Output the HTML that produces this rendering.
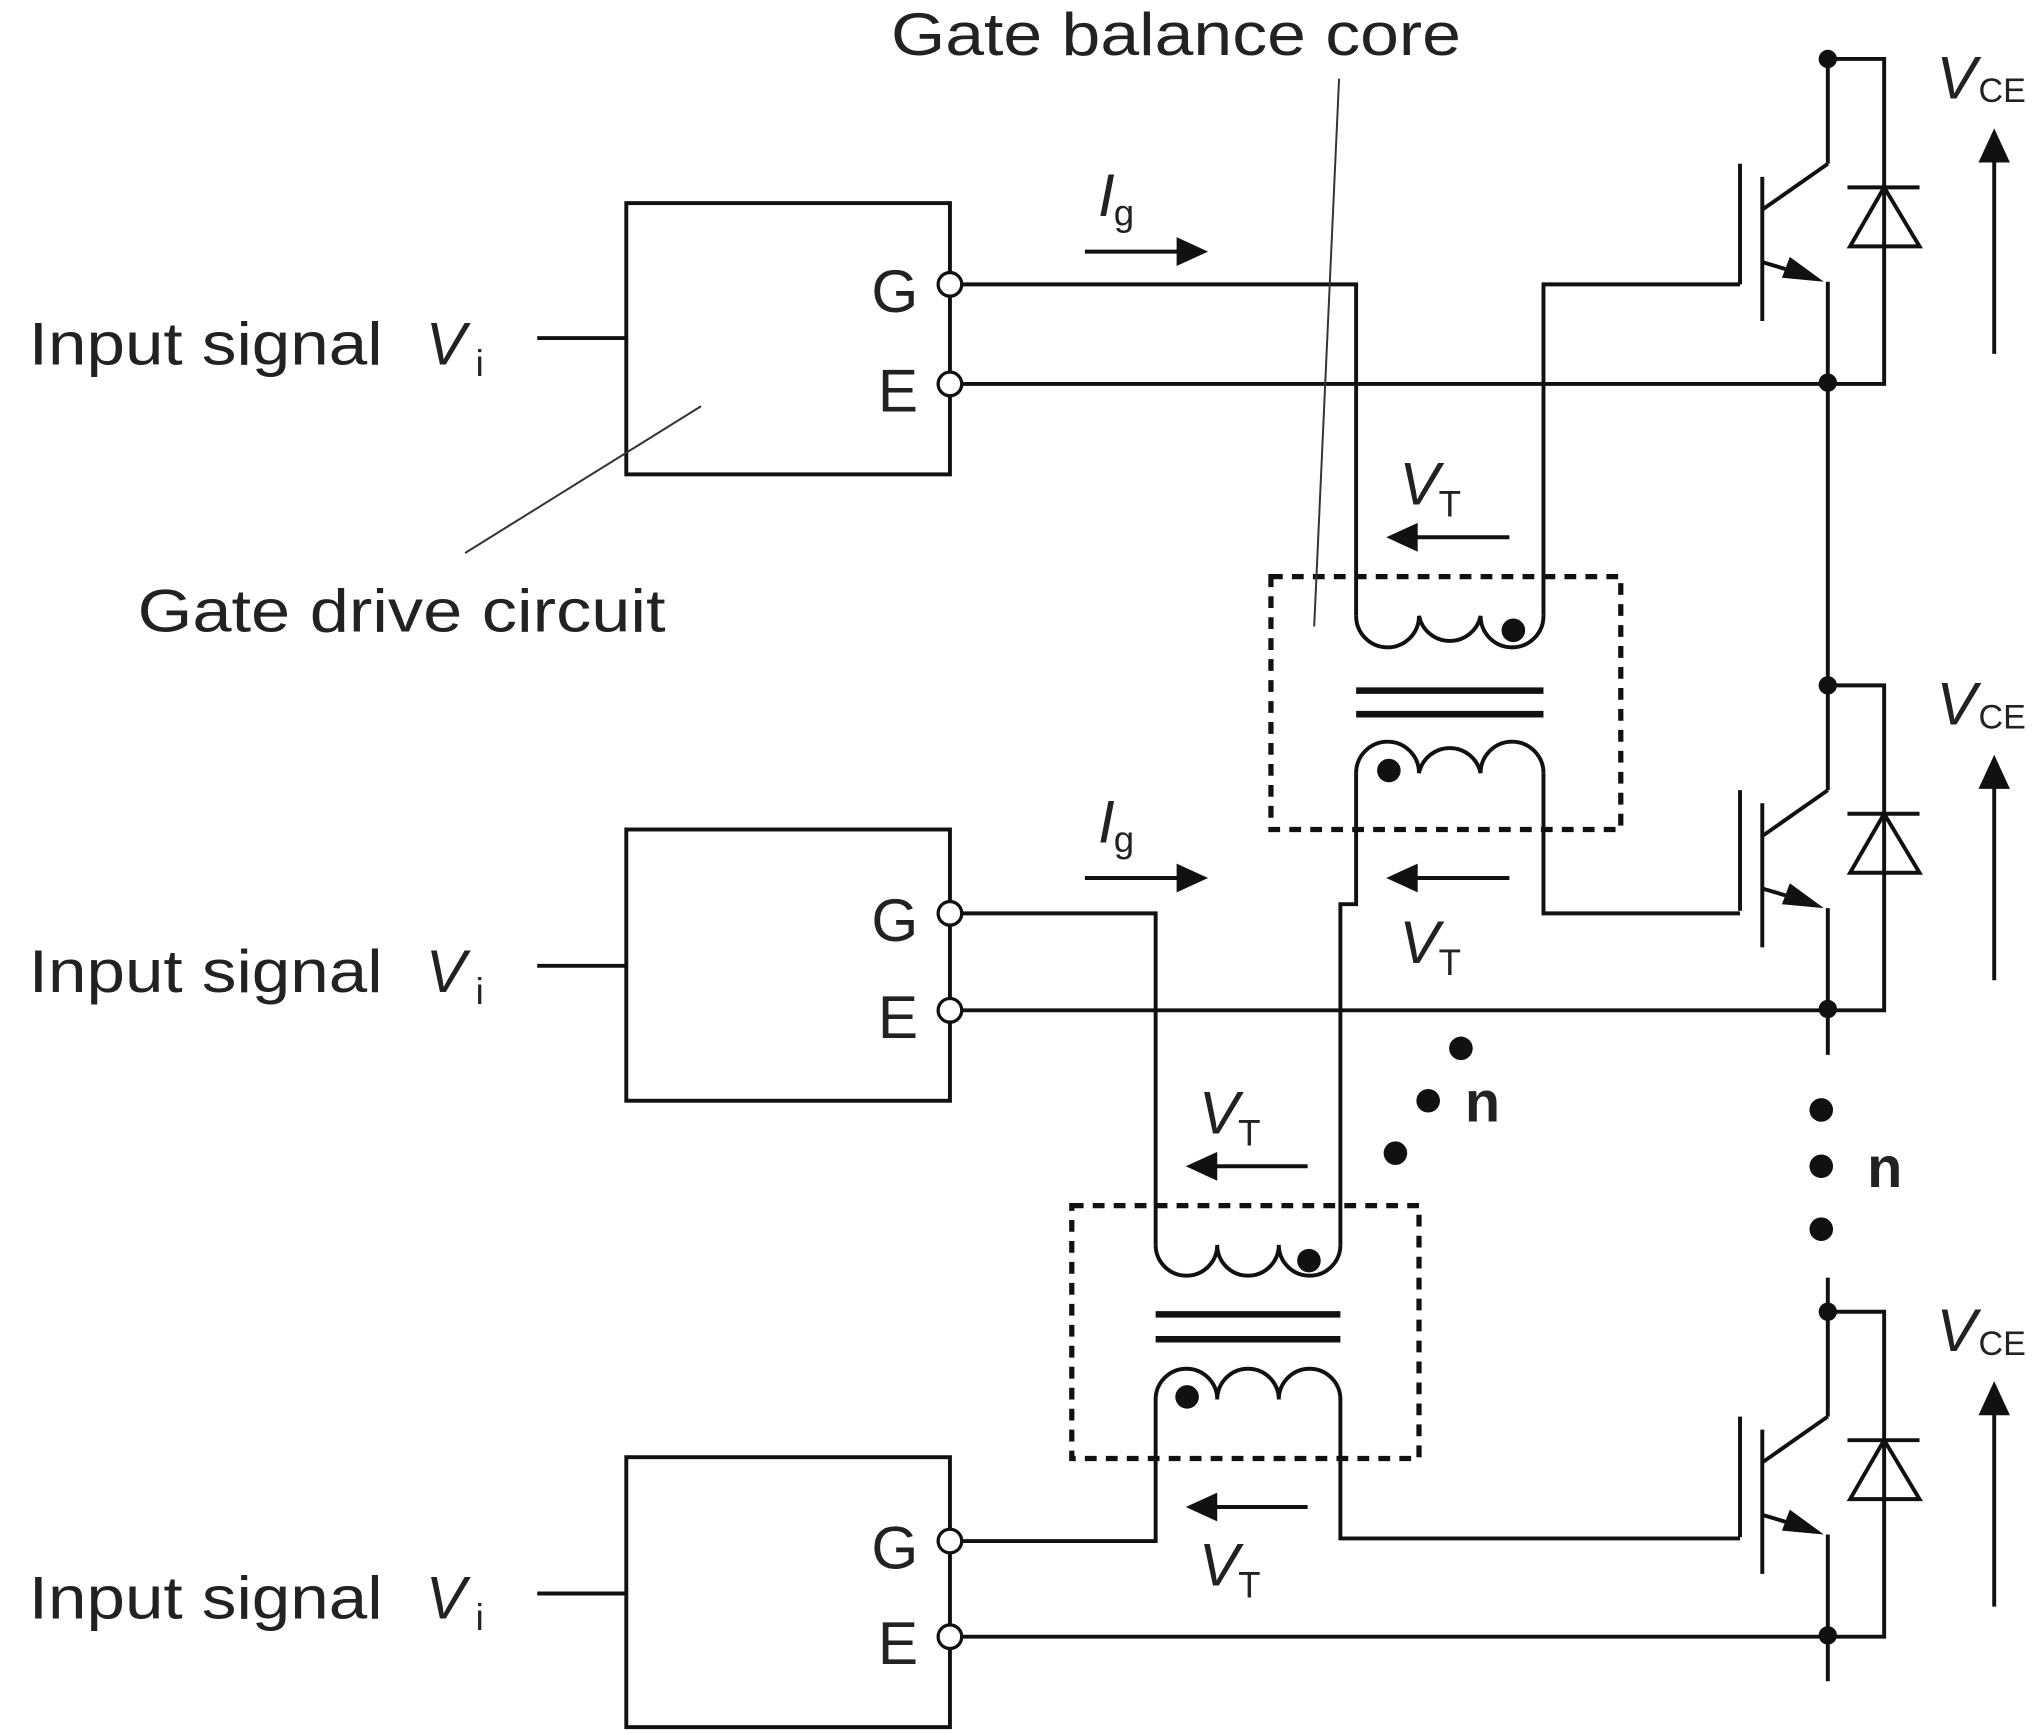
<!DOCTYPE html>
<html><head><meta charset="utf-8"><style>
html,body{margin:0;padding:0;background:#fff}
svg{display:block}
text{font-family:"Liberation Sans Narrow","Liberation Sans",sans-serif;fill:#222}
</style></head><body>
<svg width="2044" height="1735" viewBox="0 0 1560 1324" preserveAspectRatio="none" xmlns="http://www.w3.org/2000/svg">
<defs>
<marker id="ah" viewBox="0 0 10 10" refX="9" refY="5" markerWidth="5" markerHeight="5" orient="auto" markerUnits="userSpaceOnUse">
</marker>
</defs>
<g fill="none" stroke="#111" stroke-width="3">
<!-- boxes -->
<rect x="478" y="155" width="247" height="207"/>
<rect x="478" y="633" width="247" height="207"/>
<rect x="478" y="1112" width="247" height="206"/>
<line x1="410" y1="258" x2="478" y2="258"/>
<line x1="410" y1="737" x2="478" y2="737"/>
<line x1="410" y1="1216" x2="478" y2="1216"/>
<!-- emitter lines -->
<line x1="734" y1="293" x2="1395" y2="293"/>
<line x1="734" y1="771" x2="1395" y2="771"/>
<line x1="734" y1="1249" x2="1395" y2="1249"/>
<!-- gate 1 -->
<polyline points="734,217 1035,217 1035,470"/>
<polyline points="1328,217 1178,217 1178,470"/>
<!-- T1 windings -->
<path d="M1035,470 A24,24 0 0 0 1083,470 A24,24 0 0 0 1130,470 A24,24 0 0 0 1178,470"/>
<path d="M1035,590 A24,24 0 0 1 1083,590 A24,24 0 0 1 1130,590 A24,24 0 0 1 1178,590"/>
<polyline points="1035,590 1035,690 1023,690 1023,950"/>
<polyline points="1178,590 1178,697 1328,697"/>
<!-- gate 2 -->
<polyline points="734,697 882,697 882,950"/>
<!-- T2 windings -->
<path d="M882,950 A23.5,23.5 0 0 0 929,950 A23.5,23.5 0 0 0 976,950 A23.5,23.5 0 0 0 1023,950"/>
<path d="M882,1068 A23.5,23.5 0 0 1 929,1068 A23.5,23.5 0 0 1 976,1068 A23.5,23.5 0 0 1 1023,1068"/>
<polyline points="882,1068 882,1176 734,1176"/>
<polyline points="1023,1068 1023,1174 1328,1174"/>
</g>
<!-- cores -->
<g stroke="#111" stroke-width="5">
<line x1="1035" y1="527" x2="1178" y2="527"/><line x1="1035" y1="545" x2="1178" y2="545"/>
<line x1="882" y1="1003" x2="1023" y2="1003"/><line x1="882" y1="1022" x2="1023" y2="1022"/>
</g>
<!-- dashed boxes -->
<g fill="none" stroke="#111" stroke-width="4" stroke-dasharray="9,7">
<rect x="970" y="440" width="267" height="193"/>
<rect x="818" y="920" width="265" height="193"/>
</g>
<g fill="#111">
<circle cx="1155" cy="481" r="9"/><circle cx="1060" cy="588" r="9"/>
<circle cx="999" cy="962" r="9"/><circle cx="906" cy="1066" r="9"/>
<circle cx="1115" cy="800" r="9"/><circle cx="1090" cy="840" r="9"/><circle cx="1065" cy="880" r="9"/>
<circle cx="1390" cy="847" r="9"/><circle cx="1390" cy="890" r="9"/><circle cx="1390" cy="938" r="9"/>
</g>
<!-- terminals -->
<g fill="#fff" stroke="#111" stroke-width="2.5">
<circle cx="725" cy="217" r="9"/><circle cx="725" cy="293" r="9"/>
<circle cx="725" cy="697" r="9"/><circle cx="725" cy="771" r="9"/>
<circle cx="725" cy="1176" r="9"/><circle cx="725" cy="1249" r="9"/>
</g>
<!-- IGBTs -->
<g id="ig">
<g fill="none" stroke="#111" stroke-width="3">
<line x1="1395" y1="40" x2="1395" y2="125"/>
<line x1="1395" y1="125" x2="1345" y2="160"/>
<line x1="1345" y1="200" x2="1385" y2="212"/>
<line x1="1395" y1="215" x2="1395" y2="293"/>
<polyline points="1395,45 1438,45 1438,293 1395,293"/>
<line x1="1345" y1="135" x2="1345" y2="245"/>
<line x1="1328" y1="125" x2="1328" y2="217"/>
<line x1="1410" y1="143" x2="1465" y2="143"/>
<polygon points="1438,143 1412,188 1465,188"/>
<line x1="1522" y1="120" x2="1522" y2="270"/>
</g>
<polygon points="1392,215 1366,196 1360,212" fill="#111"/>
<polygon points="1522,98 1510,124 1534,124" fill="#111"/>
<circle cx="1395" cy="45" r="7" fill="#111"/>
<circle cx="1395" cy="292" r="7" fill="#111"/>
<text x="1478" y="75" font-size="46" font-style="italic">V</text><text x="1510" y="78" font-size="26">CE</text>
</g>
<use href="#ig" y="478"/>
<use href="#ig" y="956"/>
<g stroke="#111" stroke-width="3">
<line x1="1395" y1="293" x2="1395" y2="523"/>
<line x1="1395" y1="771" x2="1395" y2="805"/>
<line x1="1395" y1="975" x2="1395" y2="1001"/>
<line x1="1395" y1="1249" x2="1395" y2="1283"/>
</g>
<!-- current/voltage arrows -->
<g stroke="#111" stroke-width="3">
<line x1="828" y1="192" x2="905" y2="192"/><line x1="828" y1="670" x2="905" y2="670"/>
<line x1="1152" y1="410" x2="1075" y2="410"/><line x1="1152" y1="670" x2="1075" y2="670"/>
<line x1="998" y1="890" x2="922" y2="890"/><line x1="998" y1="1150" x2="922" y2="1150"/>
</g>
<g fill="#111">
<polygon points="922,192 898,181 898,203"/><polygon points="922,670 898,659 898,681"/>
<polygon points="1058,410 1082,399 1082,421"/><polygon points="1058,670 1082,659 1082,681"/>
<polygon points="905,890 929,879 929,901"/><polygon points="905,1150 929,1139 929,1161"/>
</g>
<!-- leaders -->
<g stroke="#333" stroke-width="1.5">
<line x1="1022" y1="60" x2="1003" y2="478"/>
<line x1="355" y1="422" x2="535" y2="310"/>
</g>
<!-- text -->
<g font-size="46">
<text x="22" y="278" textLength="270" lengthAdjust="spacingAndGlyphs">Input signal</text>
<text x="22" y="757" textLength="270" lengthAdjust="spacingAndGlyphs">Input signal</text>
<text x="22" y="1235" textLength="270" lengthAdjust="spacingAndGlyphs">Input signal</text>
<text x="105" y="482" textLength="403" lengthAdjust="spacingAndGlyphs">Gate drive circuit</text>
<text x="680" y="42" textLength="435" lengthAdjust="spacingAndGlyphs">Gate balance core</text>
<text x="665" y="238">G</text><text x="670" y="314">E</text>
<text x="665" y="718">G</text><text x="670" y="792">E</text>
<text x="665" y="1197">G</text><text x="670" y="1270">E</text>
</g>
<g font-style="italic" font-size="46">
<text x="325" y="278">V</text><text x="325" y="757">V</text><text x="325" y="1235">V</text>
<text x="838" y="165">I</text><text x="838" y="643">I</text>
<text x="1068" y="385">V</text><text x="1068" y="735">V</text>
<text x="915" y="865">V</text><text x="915" y="1210">V</text>
</g>
<g font-size="28">
<text x="363" y="287">i</text><text x="363" y="766">i</text><text x="363" y="1244">i</text>
<text x="850" y="172">g</text><text x="850" y="650">g</text>
<text x="1098" y="394">T</text><text x="1098" y="744">T</text>
<text x="945" y="874">T</text><text x="945" y="1219">T</text>
</g>
<g font-size="44" font-weight="bold" font-family="Liberation Sans, sans-serif">
<text x="1118" y="856">n</text><text x="1425" y="906">n</text>
</g>
</svg>
</body></html>
